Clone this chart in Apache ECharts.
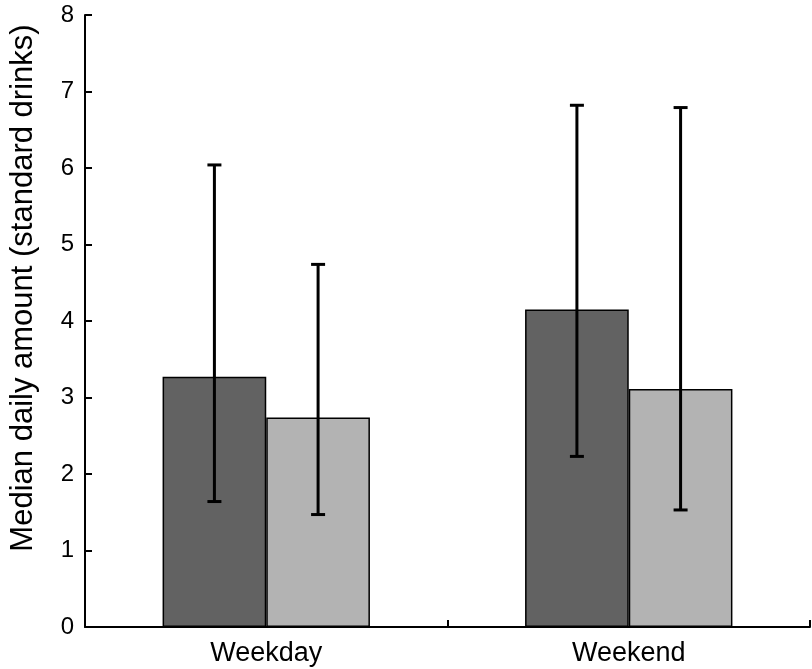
<!DOCTYPE html>
<html>
<head>
<meta charset="utf-8">
<script src="https://cdn.jsdelivr.net/npm/echarts@6/dist/echarts.min.js"></script>
<style>
html,body{margin:0;padding:0;background:#fff;}
#chart{width:812px;height:669px;}
</style>
</head>
<body>
<div id="chart"></div>
<script>
var categories = ['Weekday', 'Weekend'];
var darkValues = [3.27, 4.15];
var darkLower = [1.64, 2.23];
var darkUpper = [6.04, 6.82];
var lightValues = [2.74, 3.11];
var lightLower = [1.47, 1.53];
var lightUpper = [4.74, 6.79];
var yTicks = [0, 1, 2, 3, 4, 5, 6, 7, 8];

var BAR_FRAC = 0.286;
var FONT = 'Liberation Sans, Arial, Helvetica, sans-serif';

function errorSeries(lower, upper, side) {
  var data = categories.map(function (c, i) { return [i, lower[i], upper[i]]; });
  return {
    type: 'custom',
    silent: true,
    z: 10,
    data: data,
    encode: { x: 0, y: [1, 2] },
    renderItem: function (params, api) {
      var idx = api.value(0);
      var band = api.size([1, 0])[0];
      var off = side * band * BAR_FRAC / 2;
      var lo = api.coord([idx, api.value(1)]);
      var hi = api.coord([idx, api.value(2)]);
      var x = lo[0] + off;
      var cap = 7;
      var style = { stroke: '#000', lineWidth: 3 };
      return {
        type: 'group',
        children: [
          { type: 'line', shape: { x1: x, y1: lo[1], x2: x, y2: hi[1] }, style: style },
          { type: 'line', shape: { x1: x - cap, y1: lo[1], x2: x + cap, y2: lo[1] }, style: style },
          { type: 'line', shape: { x1: x - cap, y1: hi[1], x2: x + cap, y2: hi[1] }, style: style }
        ]
      };
    }
  };
}

var chart = echarts.init(document.getElementById('chart'), null, { renderer: 'canvas' });
chart.setOption({
  animation: false,
  backgroundColor: '#fff',
  grid: { left: 77, right: 2, top: 15, bottom: 42, containLabel: false },
  xAxis: {
    type: 'category',
    data: categories,
    axisLine: { lineStyle: { color: '#000', width: 2 } },
    axisTick: { show: true, inside: true, length: 7, lineStyle: { color: '#000', width: 2 } },
    axisLabel: { color: '#000', fontSize: 27, fontFamily: FONT, margin: 13 },
    splitLine: { show: false }
  },
  yAxis: {
    type: 'value',
    min: yTicks[0],
    max: yTicks[yTicks.length - 1],
    interval: 1,
    name: 'Median daily amount (standard drinks)',
    nameLocation: 'middle',
    nameGap: 46,
    nameTextStyle: { color: '#000', fontSize: 31, fontFamily: FONT, padding: [0, 0, 0, 66] },
    axisLine: { show: true, lineStyle: { color: '#000', width: 2 } },
    axisTick: { show: true, inside: true, length: 7, lineStyle: { color: '#000', width: 2 } },
    axisLabel: { color: '#000', fontSize: 24, fontFamily: FONT, margin: 11 },
    splitLine: { show: false }
  },
  series: [
    {
      name: 'Group 1',
      type: 'bar',
      data: darkValues,
      barWidth: (BAR_FRAC * 100) + '%',
      barGap: '0%',
      itemStyle: { color: '#626262', borderColor: '#000', borderWidth: 1.5 }
    },
    {
      name: 'Group 2',
      type: 'bar',
      data: lightValues,
      barWidth: (BAR_FRAC * 100) + '%',
      barGap: '0%',
      itemStyle: { color: '#b3b3b3', borderColor: '#000', borderWidth: 1.5 }
    },
    errorSeries(darkLower, darkUpper, -1),
    errorSeries(lightLower, lightUpper, 1)
  ]
});
</script>
</body>
</html>
